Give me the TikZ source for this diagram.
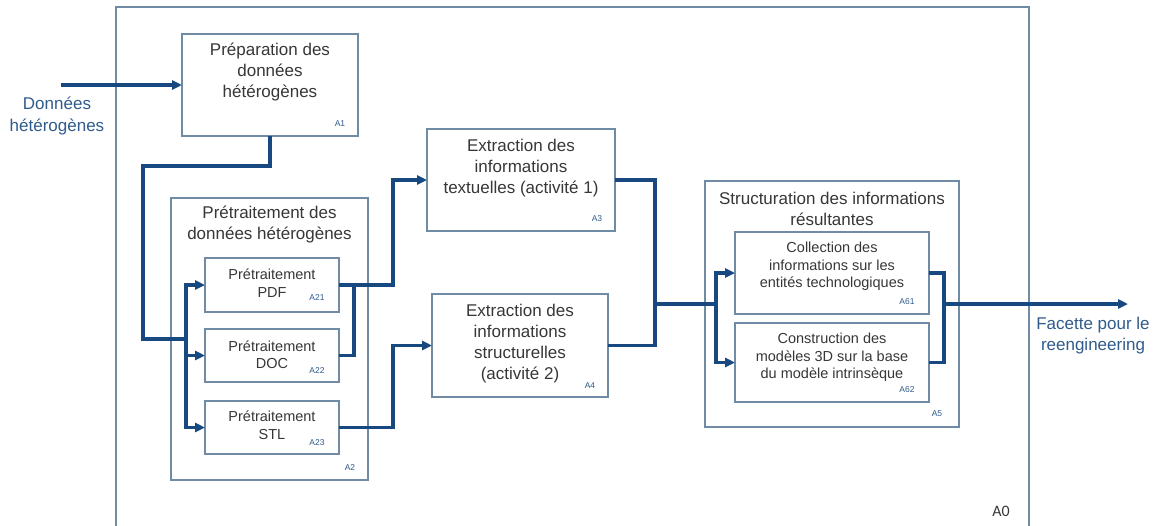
\documentclass[tikz,border=0pt]{standalone}
\usepackage{fontspec}
\setmainfont{Liberation Sans}
\newfontfamily\calib{Carlito}
\usetikzlibrary{arrows.meta}
\definecolor{frame}{RGB}{112,140,165}
\definecolor{flowc}{RGB}{24,72,128}
\definecolor{txt}{RGB}{55,55,55}
\definecolor{lblc}{RGB}{45,90,140}
\definecolor{iolbl}{RGB}{48,92,140}
\tikzset{
  box/.style={draw=frame, line width=1.2pt, inner sep=0pt, outer sep=0pt, fill=white},
  bigtxt/.style={align=center, text=txt, font=\fontsize{17}{21}\selectfont, inner sep=0pt},
  smalltxt/.style={align=center, text=txt, font=\fontsize{14.5}{17.5}\selectfont, inner sep=0pt},
  codelbl/.style={text=lblc, font=\fontsize{8.5}{10}\selectfont, inner sep=0pt},
  iotxt/.style={align=center, text=iolbl, font=\fontsize{17}{21.5}\selectfont, inner sep=0pt},
  flow/.style={draw=flowc, line width=3.2pt},
  arr/.style={flow, -{Triangle[length=10pt,width=9pt]}}
}
\begin{document}
\begin{tikzpicture}[x=1pt,y=-1pt]
\useasboundingbox (0,0) rectangle (1156,525);
\fill[white] (0,0) rectangle (1156,525);
% A0 frame
\begin{scope}
\clip (0,0) rectangle (1156,525);
\node[box, fill=none, minimum width=913pt, minimum height=540pt] (a0) at (572.5,277) {};
\end{scope}
\node[text=txt, font=\calib\fontsize{16}{18}\selectfont, inner sep=0pt] (a0l) at (1001,511) {A0};

% boxes
\node[box, minimum width=176pt, minimum height=102pt] (a1) at (270,85) {};
\node[box, minimum width=197pt, minimum height=282pt] (a2) at (269.5,339) {};
\node[box, minimum width=134pt, minimum height=54pt] (a21) at (272,285) {};
\node[box, minimum width=134pt, minimum height=53pt] (a22) at (272,355.5) {};
\node[box, minimum width=134pt, minimum height=53pt] (a23) at (272,427.5) {};
\node[box, minimum width=188pt, minimum height=102pt] (a3) at (521,180) {};
\node[box, minimum width=176pt, minimum height=103pt] (a4) at (520,345.5) {};
\node[box, minimum width=254pt, minimum height=246pt] (a5) at (832,304) {};
\node[box, minimum width=194pt, minimum height=82pt] (a51) at (832,273) {};
\node[box, minimum width=194pt, minimum height=79pt] (a52) at (832,362.5) {};

% texts
\node[bigtxt] (t1) at (270,72.5) {Préparation des\\données\\hétérogènes};
\node[bigtxt] (t2) at (269.5,225) {Prétraitement des\\données hétérogènes};
\node[smalltxt] (t21) at (272,283) {Prétraitement\\PDF};
\node[smalltxt] (t22) at (272,354.5) {Prétraitement\\DOC};
\node[smalltxt] (t23) at (272,425) {Prétraitement\\STL};
\node[bigtxt] (t3) at (521,168.5) {Extraction des\\informations\\textuelles (activité 1)};
\node[bigtxt] (t4) at (520,344) {Extraction des\\informations\\structurelles\\(activité 2)};
\node[bigtxt] (t5) at (832,209) {Structuration des informations\\résultantes};
\node[smalltxt] (t51) at (832,266.5) {Collection des\\informations sur les\\entités technologiques};
\node[smalltxt] (t52) at (832,357.5) {Construction des\\modèles 3D sur la base\\du modèle intrinsèque};

% code labels
\node[codelbl] (l1) at (340,124) {A1};
\node[codelbl] (l2) at (350,468) {A2};
\node[codelbl] (l21) at (317,298) {A21};
\node[codelbl] (l22) at (317,371) {A22};
\node[codelbl] (l23) at (317,443) {A23};
\node[codelbl] (l3) at (597,219) {A3};
\node[codelbl] (l4) at (590,386) {A4};
\node[codelbl] (l51) at (907,302) {A61};
\node[codelbl] (l52) at (907,390) {A62};
\node[codelbl] (l5) at (937,414) {A5};

% io labels
\node[iotxt] (inl) at (57,116) {Données\\hétérogènes};
\node[iotxt] (outl) at (1093,335.5) {Facette pour le\\reengineering};

% coordinates
\coordinate (inS) at (61,85);
\coordinate (c1) at (143,166);
\coordinate (j2) at (186,339);
\coordinate (k3) at (393,180);
\coordinate (k22) at (354,285);
\coordinate (k4) at (393,345.5);
\coordinate (m) at (655,304);
\coordinate (j5) at (716,304);
\coordinate (o) at (944,304);
\coordinate (outE) at (1128,304);

% connectors
\draw[arr] (inS) -- (a1.west);
\draw[flow] (a1.south) |- (c1) |- (j2);
\draw[arr] (j2) |- (a21.west);
\draw[arr] (j2) |- (a22.west);
\draw[arr] (j2) |- (a23.west);
\draw[arr] (a21.east) -| (k3) -- (a3.west);
\draw[flow] (a22.east) -| (k22);
\draw[arr] (a23.east) -| (k4) -- (a4.west);
\draw[flow] (a3.east) -| (m) |- (a4.east);
\draw[flow] (m) -- (j5);
\draw[arr] (j5) |- (a51.west);
\draw[arr] (j5) |- (a52.west);
\draw[flow] (a51.east) -| (o);
\draw[flow] (a52.east) -| (o);
\draw[arr] (o) -- (outE);
\end{tikzpicture}
\end{document}
